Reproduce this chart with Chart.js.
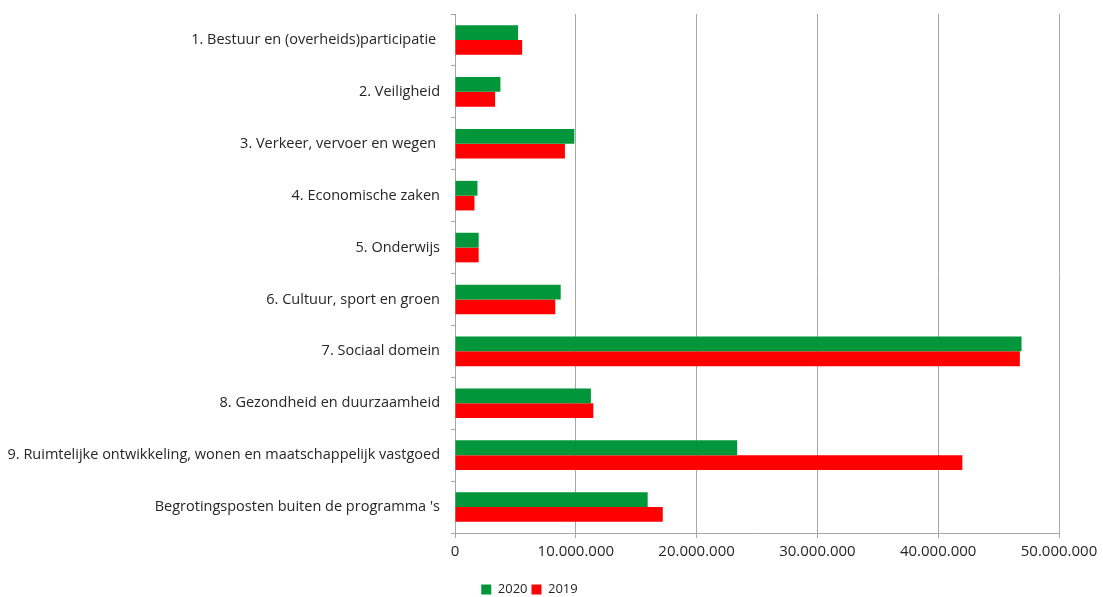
<!DOCTYPE html>
<html>
<head>
<meta charset="utf-8">
<script src="https://cdn.jsdelivr.net/npm/chart.js@4/dist/chart.umd.min.js"></script>
<style>
    html, body { margin: 0; padding: 0; background: #fff; }
    #wrap { width: 1103px; height: 597px; position: relative; }
</style>
</head>
<body>
<div id="wrap"><canvas id="chart"></canvas></div>
<script>
// Categories (top to bottom)
const programmaLabels = [
    '1. Bestuur en (overheids)participatie ',
    '2. Veiligheid',
    '3. Verkeer, vervoer en wegen ',
    '4. Economische zaken',
    '5. Onderwijs',
    '6. Cultuur, sport en groen',
    '7. Sociaal domein',
    '8. Gezondheid en duurzaamheid',
    '9. Ruimtelijke ontwikkeling, wonen en maatschappelijk vastgoed',
    'Begrotingsposten buiten de programma \'s'
];

// Values in euro
const values2020 = [5220000, 3760000, 9880000, 1860000, 1960000, 8750000, 46900000, 11250000, 23360000, 15950000];
const values2019 = [5560000, 3320000, 9100000, 1610000, 1960000, 8300000, 46760000, 11450000, 42000000, 17200000];

const xTicks = [0, 10000000, 20000000, 30000000, 40000000, 50000000];

const fontFamily = '"Open Sans", "Liberation Sans", sans-serif';
const gridColor = '#a6a6a6';
const textColor = '#262626';

// Dutch thousands separator
function formatNl(value) {
    return String(Math.round(value)).replace(/\B(?=(\d{3})+(?!\d))/g, '.');
}

const ctx = document.getElementById('chart').getContext('2d');
new Chart(ctx, {
    type: 'bar',
    data: {
        labels: programmaLabels,
        datasets: [
            {
                label: '2020',
                data: values2020,
                backgroundColor: '#009639',
                borderWidth: 0
            },
            {
                label: '2019',
                data: values2019,
                backgroundColor: '#ff0000',
                borderWidth: 0
            }
        ]
    },
    options: {
        indexAxis: 'y',
        responsive: true,
        maintainAspectRatio: false,
        animation: false,
        datasets: {
            bar: {
                categoryPercentage: 0.57,
                barPercentage: 1.0
            }
        },
        layout: {
            padding: { top: 14, right: 44, bottom: -9, left: 0 }
        },
        scales: {
            x: {
                min: 0,
                max: 50000000,
                afterBuildTicks: (scale) => {
                    scale.ticks = xTicks.map(v => ({ value: v }));
                },
                afterFit: (scale) => {
                    scale.height = 46;
                },
                grid: {
                    color: gridColor,
                    lineWidth: 1,
                    tickLength: 5,
                    drawTicks: true
                },
                border: { color: gridColor, width: 1 },
                ticks: {
                    color: textColor,
                    padding: 5,
                    maxRotation: 0,
                    font: { family: fontFamily, size: 15 },
                    callback: (value) => formatNl(value)
                }
            },
            y: {
                afterFit: (scale) => {
                    scale.width = 455;
                    scale.paddingTop = 0;
                    scale.paddingBottom = 0;
                },
                grid: {
                    drawOnChartArea: false,
                    color: gridColor,
                    tickLength: 4
                },
                border: { color: gridColor, width: 1 },
                ticks: {
                    color: textColor,
                    padding: 11,
                    autoSkip: false,
                    font: { family: fontFamily, size: 14.5 }
                }
            }
        },
        plugins: {
            legend: {
                position: 'bottom',
                labels: {
                    boxWidth: 10,
                    boxHeight: 10,
                    padding: 4,
                    color: textColor,
                    font: { family: fontFamily, size: 13 }
                }
            },
            tooltip: { enabled: false }
        }
    }
});
</script>
</body>
</html>
